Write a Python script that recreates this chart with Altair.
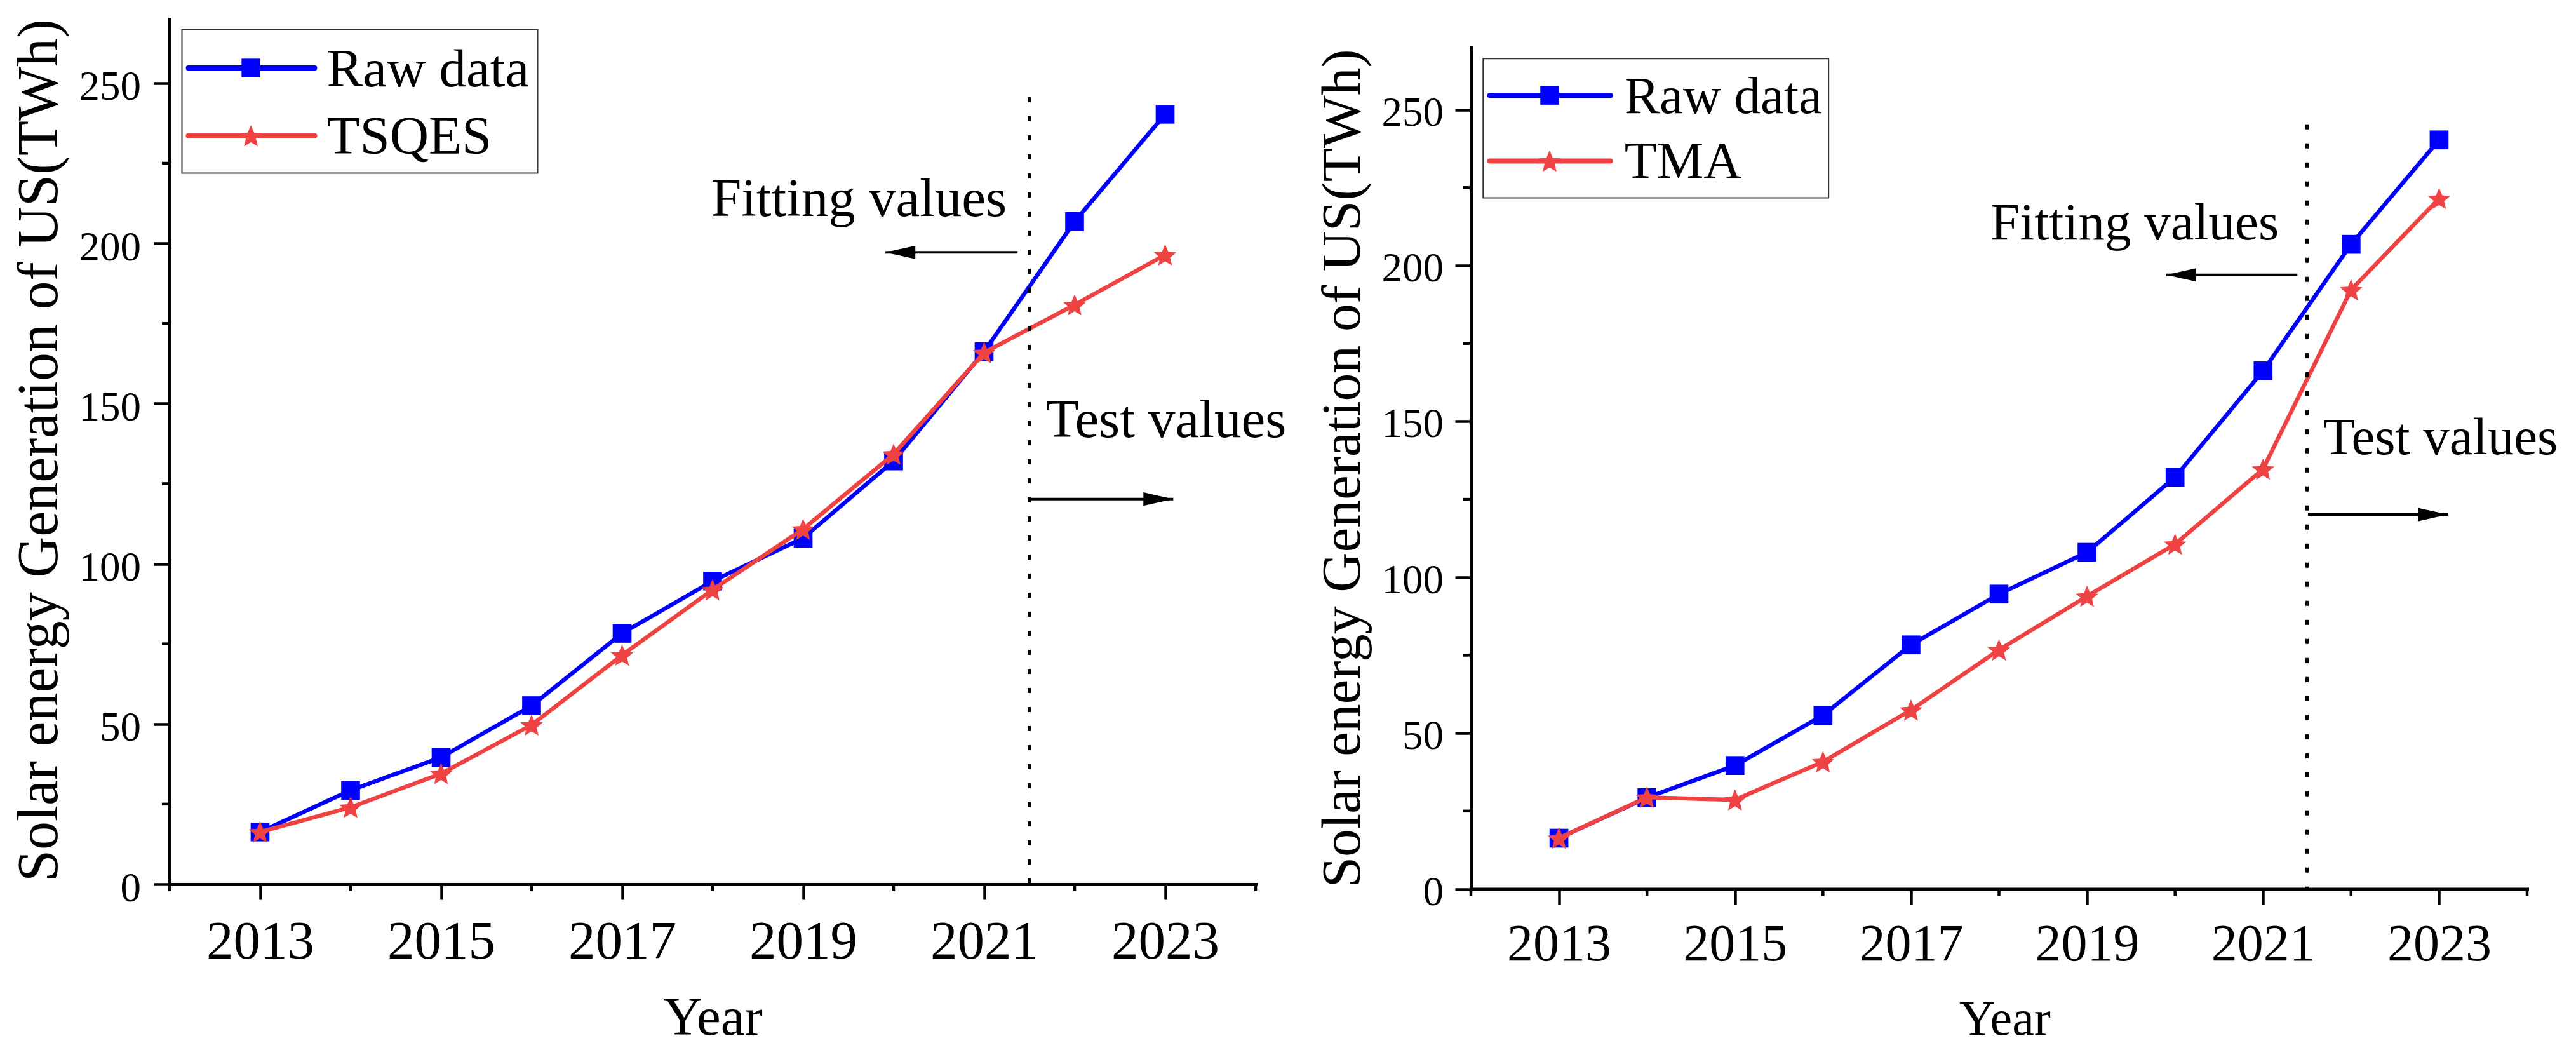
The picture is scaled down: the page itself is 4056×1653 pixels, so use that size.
import altair as alt
import pandas as pd

# ---------------- data ----------------
years = [2013, 2014, 2015, 2016, 2017, 2018, 2019, 2020, 2021, 2022, 2023]
raw_data = [16.3, 29.3, 39.6, 55.7, 78.3, 94.6, 108.0, 132.1, 166.2, 206.8, 240.3]
tsqes = [16.3, 24.0, 34.5, 49.7, 71.5, 91.9, 110.8, 134.2, 165.9, 180.8, 196.4]
tma = [16.3, 29.4, 28.6, 40.8, 57.4, 76.7, 93.9, 110.6, 134.7, 192.2, 221.5]

x_major = [2013, 2015, 2017, 2019, 2021, 2023]
x_minor = [2012, 2014, 2016, 2018, 2020, 2022, 2024]
y_major = [0, 50, 100, 150, 200, 250]
y_minor = [25, 75, 125, 175, 225]

split_year = 2021.5
labels_fit = "Fitting values"
labels_test = "Test values"
y_title = "Solar energy Generation of US(TWh)"
x_title = "Year"
raw_name = "Raw data"

BLUE = "#0000FF"
RED = "#EF4242"
FONT = "Liberation Serif"

STAR = ("M0,-0.9045 L0.2645,-0.2685 L0.9511,-0.2135 L0.428,0.2345 L0.5878,0.9045 "
        "L0,0.5455 L-0.5878,0.9045 L-0.428,0.2345 L-0.9511,-0.2135 L-0.2645,-0.2685 Z")
HEAD_L = "M0,0 L2,-0.45 L2,0.45 Z"
HEAD_R = "M0,0 L-2,-0.45 L-2,0.45 Z"


def panel(model_name, model_vals, g):
    W, H, T = g["W"], g["H"], g["top"]
    HT = H + T  # full view height; the plot itself starts T px lower
    xs = alt.Scale(domain=[2012, 2024], nice=False, zero=False)
    ys = alt.Scale(domain=[0, 270], nice=False, zero=False, range=[HT, T])
    x_axis = alt.Axis(
        values=x_major, format="d", title=x_title, grid=False,
        labelFont=FONT, labelFontSize=g["xlab_fs"], labelColor="black",
        labelBaseline="alphabetic", labelPadding=g["xlab_pad"],
        labelFlush=False, labelOverlap=False,
        titleFont=FONT, titleFontSize=g["xtitle_fs"], titleFontWeight="normal",
        titleColor="black", titleBaseline="alphabetic",
        titleX=g["xtitle_x"], titleY=g["xtitle_y"], titleAlign="center",
    )
    y_axis = alt.Axis(
        values=y_major, format="d", title=y_title, grid=False,
        labelFont=FONT, labelFontSize=65, labelColor="black",
        labelBaseline="alphabetic", labelPadding=g["ylab_pad"],
        labelOffset=g["ylab_off"], labelFlush=False, labelOverlap=False,
        titleFont=FONT, titleFontSize=g["ytitle_fs"], titleFontWeight="normal",
        titleColor="black", titleAngle=270, titleBaseline="alphabetic",
        titleAlign="center", titleX=g["ytitle_x"], titleY=g["ytitle_y"] + T,
    )

    raw_df = pd.DataFrame({"year": years, "value": raw_data})
    mod_df = pd.DataFrame({"year": years, "value": model_vals})
    one = pd.DataFrame({"k": [0]})

    def X(field="year"):
        return alt.X(f"{field}:Q", scale=xs, axis=x_axis, title=x_title)

    def Y(field="value"):
        return alt.Y(f"{field}:Q", scale=ys, axis=y_axis, title=y_title)

    layers = []
    # invisible frame that fixes the panel's bounds
    layers.append(alt.Chart(one).mark_rule(opacity=0, strokeWidth=1).encode(
        x=alt.value(g["fx1"]), x2=alt.value(g["fx2"]), y=alt.value(g["fy"])))
    # raw data
    layers.append(alt.Chart(raw_df).mark_line(color=BLUE, strokeWidth=6.5).encode(
        x=X(), y=Y()))
    layers.append(alt.Chart(raw_df).mark_point(
        shape="square", filled=True, size=880, color=BLUE, opacity=1).encode(
        x=X(), y=Y()))
    # model
    layers.append(alt.Chart(mod_df).mark_line(color=RED, strokeWidth=6.5).encode(
        x=X(), y=Y()))
    layers.append(alt.Chart(mod_df).mark_point(
        shape=STAR, filled=True, size=1380, color=RED, opacity=1).encode(
        x=X(), y=Y()))
    # minor ticks
    layers.append(alt.Chart(pd.DataFrame({"year": x_minor})).mark_rule(
        color="black", strokeWidth=4.5).encode(
        x=X(), y=alt.value(HT), y2=alt.value(HT + 11)))
    layers.append(alt.Chart(pd.DataFrame({"value": y_minor})).mark_rule(
        color="black", strokeWidth=4.5).encode(
        y=Y(), x=alt.value(0), x2=alt.value(-12)))
    # split line
    layers.append(alt.Chart(pd.DataFrame(
        {"year": [split_year], "value": [g["split_top"]], "bot": [0]})).mark_rule(
        color="black", strokeWidth=5, strokeDash=[8, 22]).encode(
        x=X(), y=Y(), y2="bot:Q"))
    # arrows
    arr_df = pd.DataFrame({"year": [g["al_tail"], g["ar_tail"]],
                           "head": [g["al_head"], g["ar_head"]],
                           "value": [g["al_y"], g["ar_y"]]})
    layers.append(alt.Chart(arr_df).mark_rule(color="black", strokeWidth=4).encode(
        x=X(), x2="head:Q", y=Y()))
    layers.append(alt.Chart(pd.DataFrame({"year": [g["al_head"]], "value": [g["al_y"]]})).mark_point(
        shape=HEAD_L, filled=True, size=2209, color="black", opacity=1).encode(
        x=X(), y=Y()))
    layers.append(alt.Chart(pd.DataFrame({"year": [g["ar_head"]], "value": [g["ar_y"]]})).mark_point(
        shape=HEAD_R, filled=True, size=2209, color="black", opacity=1).encode(
        x=X(), y=Y()))
    # annotation texts
    layers.append(alt.Chart(pd.DataFrame(
        {"year": [g["fit_x"]], "value": [g["fit_y"]], "t": [labels_fit]})).mark_text(
        align="right", baseline="alphabetic", font=FONT, fontSize=g["ann_fs"],
        color="black").encode(x=X(), y=Y(), text="t:N"))
    layers.append(alt.Chart(pd.DataFrame(
        {"year": [g["test_x"]], "value": [g["test_y"]], "t": [labels_test]})).mark_text(
        align="left", baseline="alphabetic", font=FONT, fontSize=g["ann_fs"],
        color="black").encode(x=X(), y=Y(), text="t:N"))
    # legend (drawn by hand)
    L = g["leg"]
    layers.append(alt.Chart(one).mark_rect(
        fill="white", stroke="#333333", strokeWidth=2).encode(
        x=alt.value(L["x1"]), x2=alt.value(L["x2"]),
        y=alt.value(L["y1"] + T), y2=alt.value(L["y2"] + T)))
    layers.append(alt.Chart(one).mark_rule(
        color=BLUE, strokeWidth=8, strokeCap="round").encode(
        x=alt.value(L["lx1"]), x2=alt.value(L["lx2"]), y=alt.value(L["r1"] + T)))
    layers.append(alt.Chart(one).mark_point(
        shape="square", filled=True, size=860, color=BLUE, opacity=1).encode(
        x=alt.value(L["sx"]), y=alt.value(L["r1"] + T)))
    layers.append(alt.Chart(one).mark_rule(
        color=RED, strokeWidth=8, strokeCap="round").encode(
        x=alt.value(L["lx1"]), x2=alt.value(L["lx2"]), y=alt.value(L["r2"] + T)))
    layers.append(alt.Chart(one).mark_point(
        shape=STAR, filled=True, size=1380, color=RED, opacity=1).encode(
        x=alt.value(L["sx"]), y=alt.value(L["r2"] + T)))
    layers.append(alt.Chart(pd.DataFrame({"t": [raw_name]})).mark_text(
        align="left", baseline="alphabetic", font=FONT, fontSize=L["fs"],
        color="black").encode(x=alt.value(L["tx"]), y=alt.value(L["b1"] + T), text="t:N"))
    layers.append(alt.Chart(pd.DataFrame({"t": [model_name]})).mark_text(
        align="left", baseline="alphabetic", font=FONT, fontSize=L["fs"],
        color="black").encode(x=alt.value(L["tx"]), y=alt.value(L["b2"] + T), text="t:N"))

    return alt.layer(*layers).properties(width=W, height=HT)


left_geom = dict(
    W=1710, H=1362, top=0,
    fx1=-258.6, fx2=1783.4, fy=-21.5,
    xlab_fs=85, xlab_pad=92.1, xtitle_fs=85, xtitle_x=855, xtitle_y=236.7,
    ylab_pad=20.6, ylab_off=26, ytitle_fs=90, ytitle_x=-178, ytitle_y=678.5,
    split_top=245.6,
    al_tail=2021.37, al_head=2019.91, al_y=197.2,
    ar_tail=2021.52, ar_head=2023.09, ar_y=120.2,
    fit_x=2021.25, fit_y=208.5, test_x=2021.68, test_y=139.5, ann_fs=85,
    leg=dict(x1=19.5, x2=579.5, y1=17, y2=242.5, lx1=29.5, lx2=228.5, sx=128,
             r1=77, r2=183.8, tx=247.5, b1=105.5, b2=212.2, fs=85),
)

right_geom = dict(
    W=1663, H=1325, top=44.5,
    fx1=-264.3, fx2=1600, fy=-21.5,
    xlab_fs=82, xlab_pad=88.1, xtitle_fs=78, xtitle_x=840.4, xtitle_y=229.4,
    ylab_pad=18.4, ylab_off=24.6, ytitle_fs=87.5, ytitle_x=-175.3, ytitle_y=662.5,
    split_top=245.3,
    al_tail=2021.39, al_head=2019.90, al_y=197.0,
    ar_tail=2021.51, ar_head=2023.10, ar_y=120.1,
    fit_x=2021.18, fit_y=208.3, test_x=2021.68, test_y=139.5, ann_fs=83,
    leg=dict(x1=19.3, x2=563.2, y1=17.7, y2=237, lx1=29.7, lx2=219.6, sx=123.9,
             r1=75.7, r2=179, tx=241.7, b1=103, b2=205.5, fs=83),
)

chart = (
    alt.hconcat(
        panel("TSQES", tsqes, left_geom),
        panel("TMA", tma, right_geom),
        spacing=0,
    )
    .properties(padding=0, background="white")
    .configure_view(stroke=None)
    .configure_axis(
        labelFont=FONT, titleFont=FONT, labelColor="black", titleColor="black",
        titleFontWeight="normal", grid=False,
        tickColor="black", tickWidth=4.5, domainColor="black", domainWidth=5,
        domainCap="square", labelFlush=False, labelOverlap=False,
    )
    .configure_axisX(tickSize=24)
    .configure_axisY(tickSize=25)
)

chart.save("out.html", embed_options={"renderer": "svg", "actions": False})
